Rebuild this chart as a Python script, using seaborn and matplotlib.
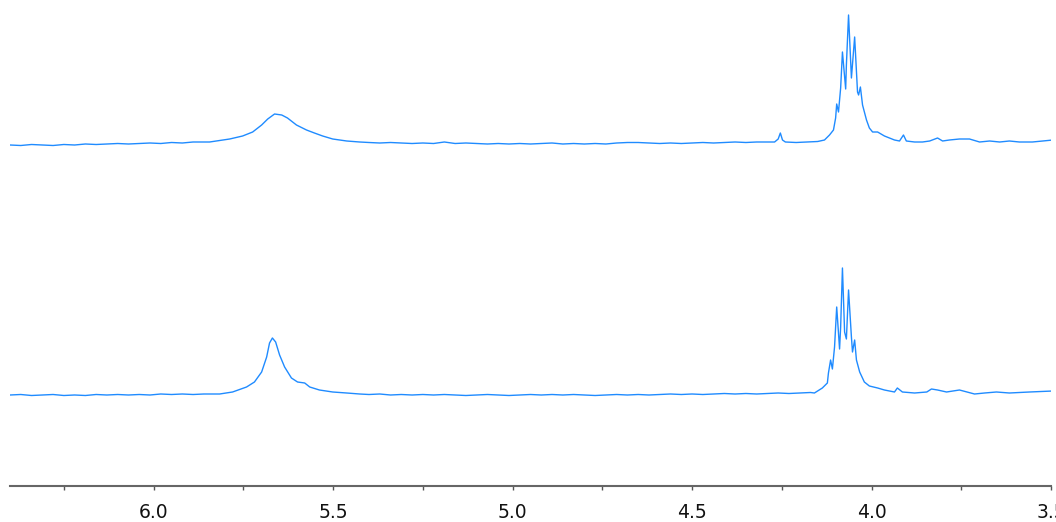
import numpy as np
import pandas as pd
import seaborn as sns
import matplotlib
matplotlib.use('Agg')
import matplotlib.pyplot as plt
from matplotlib.ticker import MultipleLocator

# chemical shift (ppm) and intensity (arb. units, baseline ~0)
top_ppm = [6.40, 6.37, 6.34, 6.31, 6.28, 6.25, 6.22, 6.19, 6.16, 6.13, 6.10, 6.07, 6.04, 6.01,
           5.98, 5.95, 5.92, 5.89, 5.86,
           5.844, 5.788, 5.752, 5.724, 5.699, 5.682, 5.663, 5.643, 5.627, 5.602, 5.574, 5.552,
           5.529, 5.501, 5.462, 5.426,
           5.40, 5.37, 5.34, 5.31, 5.28, 5.25, 5.22, 5.19, 5.16, 5.13, 5.10, 5.07, 5.04, 5.01,
           4.98, 4.95, 4.92, 4.89, 4.86, 4.83, 4.80, 4.77, 4.74, 4.71, 4.68, 4.65, 4.62, 4.59,
           4.56, 4.53, 4.50, 4.47, 4.44, 4.41, 4.38, 4.35, 4.32, 4.29, 4.27, 4.26, 4.254, 4.248,
           4.24, 4.21, 4.18, 4.15,
           4.131, 4.117, 4.106, 4.100, 4.097, 4.092, 4.086, 4.081, 4.072, 4.070, 4.064, 4.056,
           4.047, 4.039, 4.036, 4.031, 4.025, 4.014, 4.006, 3.997, 3.983, 3.964, 3.950, 3.936,
           3.922, 3.911, 3.903, 3.880, 3.858, 3.838, 3.816, 3.802, 3.783, 3.755, 3.727, 3.699,
           3.671, 3.643, 3.616, 3.588, 3.552, 3.523, 3.495]
top_int = [-4, -4.5, -3.5, -4, -4.5, -3.5, -4, -3, -3.5, -3, -2.5, -3, -2.5, -2,
           -2.5, -1.5, -2, -1, -1,
           -1, 2, 5, 9, 16, 22, 27, 26, 23, 16, 11, 8,
           5, 2, 0, -1,
           -1.5, -2, -1.5, -2, -2.5, -2, -2.5, -1, -2.5, -2, -2.5, -3, -2.5, -3,
           -2.5, -3, -2.5, -2, -3, -2.5, -3, -2.5, -3, -2, -1.5, -1.5, -2, -2.5,
           -2, -2.5, -2, -1.5, -2, -1.5, -1, -1.5, -1, -1, -1, 2, 8, 1,
           -1, -1.5, -1, -0.5,
           1, 6, 11, 23, 37, 29, 53, 89, 52, 76, 126, 63,
           104, 49, 46, 54, 36, 21, 13, 9, 9, 5, 3, 1,
           0, 6, 0, -1, -1, 0, 3, 0, 1, 2, 2, -1,
           0, -1, 0, -1, -1, 0, 1]

bottom_ppm = [6.40, 6.37, 6.34, 6.31, 6.28, 6.25, 6.22, 6.19, 6.16, 6.13, 6.10, 6.07, 6.04, 6.01,
              5.98, 5.95, 5.92, 5.89, 5.86,
              5.816, 5.780, 5.741, 5.719, 5.699, 5.685, 5.677, 5.669, 5.660, 5.649, 5.635,
              5.616, 5.599, 5.579, 5.565, 5.538, 5.501, 5.462, 5.426,
              5.40, 5.37, 5.34, 5.31, 5.28, 5.25, 5.22, 5.19, 5.16, 5.13, 5.10, 5.07, 5.04, 5.01,
              4.98, 4.95, 4.92, 4.89, 4.86, 4.83, 4.80, 4.77, 4.74, 4.71, 4.68, 4.65, 4.62, 4.59,
              4.56, 4.53, 4.50, 4.47, 4.44, 4.41, 4.38, 4.35, 4.32, 4.29, 4.26, 4.23, 4.20, 4.17,
              4.159, 4.137, 4.123, 4.120, 4.114, 4.109, 4.103, 4.097, 4.089, 4.086, 4.081, 4.075,
              4.070, 4.064, 4.056, 4.053, 4.047, 4.042, 4.033, 4.020, 4.006, 3.983, 3.964, 3.950,
              3.936, 3.928, 3.914, 3.880, 3.846, 3.833, 3.816, 3.791, 3.755, 3.713, 3.685, 3.652,
              3.616, 3.560, 3.495]
bottom_int = [-2, -1.5, -2.5, -2, -1.5, -2.5, -2, -2.5, -1.5, -2, -1.5, -2, -1.5, -2,
              -1, -1.5, -1, -1.5, -1,
              -1, 1, 6, 11, 21, 36, 50, 55, 51, 38, 26,
              15, 11, 10, 6, 3, 1, 0, -1,
              -1.5, -1, -2, -1.5, -2, -1.5, -2, -1.5, -2, -2.5, -2, -1.5, -2, -2.5,
              -2, -1.5, -2, -1.5, -2, -1.5, -2, -2.5, -2, -1.5, -2, -1.5, -2, -1.5,
              -1, -1.5, -1, -1.5, -1, -0.5, -1, -0.5, -1, -0.5, 0, -0.5, 0, 0.5,
              0, 5, 10, 20, 33, 24, 46, 86, 44, 66, 125, 61,
              54, 103, 56, 41, 53, 33, 21, 11, 7, 5, 3, 2,
              1, 5, 1, 0, 1, 4, 3, 1, 3, -1, 0, 1,
              0, 1, 2]

tick_labels = ['6.0', '5.5', '5.0', '4.5', '4.0', '3.5']

line_color = '#1f8bff'

df_top = pd.DataFrame({'ppm': top_ppm, 'intensity': np.array(top_int) + 345})
df_bottom = pd.DataFrame({'ppm': bottom_ppm, 'intensity': np.array(bottom_int) + 93})

sns.set_style('white')
plt.rcParams['font.family'] = ['DejaVu Sans']

fig = plt.figure(figsize=(10.56, 5.22), dpi=100)
ax = fig.add_axes([10 / 1056, 36 / 522, 1041 / 1056, 486 / 522])

sns.lineplot(data=df_top, x='ppm', y='intensity', estimator=None, sort=False,
             color=line_color, linewidth=1.0, ax=ax)
sns.lineplot(data=df_bottom, x='ppm', y='intensity', estimator=None, sort=False,
             color=line_color, linewidth=1.0, ax=ax)

ax.set_xlim(6.40, 3.50)
ax.set_ylim(0, 486)
ax.set_xticks([float(t) for t in tick_labels])
ax.set_xticklabels(tick_labels)
ax.xaxis.set_minor_locator(MultipleLocator(0.25))
ax.tick_params(axis='x', which='major', direction='out', length=3, width=1, color='#555555',
               labelsize=13.5, pad=9, labelcolor='#111111', bottom=True)
ax.tick_params(axis='x', which='minor', direction='out', length=3, width=1, color='#555555',
               bottom=True)
ax.set_yticks([])
ax.set_xlabel('')
ax.set_ylabel('')
for side in ['top', 'left', 'right']:
    ax.spines[side].set_visible(False)
ax.spines['bottom'].set_color('#666666')
ax.spines['bottom'].set_linewidth(1.5)
ax.patch.set_alpha(0)

fig.savefig('out.png', dpi=100)
